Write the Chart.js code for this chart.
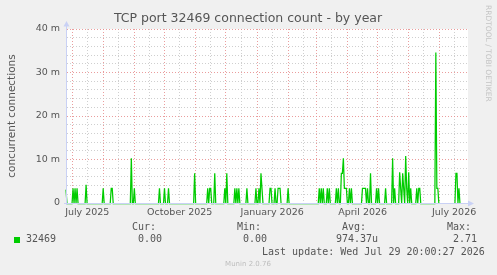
<!DOCTYPE html>
<html><head><meta charset="utf-8">
<script src="https://cdn.jsdelivr.net/npm/chart.js@4.4.1/dist/chart.umd.min.js"></script>
<style>html,body{margin:0;padding:0;background:#f0f0f0;}#wrap{width:497px;height:275px;position:relative}</style>
</head><body><div id="wrap"><canvas id="c" width="497" height="275"></canvas></div>
<script>
// ---- data ----
const chartTitle = 'TCP port 32469 connection count - by year';
const yAxisTitle = 'concurrent connections';
const seriesName = '32469';
const startStamp = '2025-06-24T20:00:27Z';
const totalDays = 400;
// day offsets (from start) with non-zero values, and values in milli-connections
const spikeDays = [0, 7, 9, 11, 20, 37, 45, 46, 65, 68, 93, 98, 102, 128, 141, 143, 144, 148, 158, 160,
  168, 170, 172, 180, 189, 192, 194, 195, 203, 204, 208, 211, 212, 213, 221,
  252, 254, 256, 260, 262, 269, 271, 274, 275, 276, 277, 278, 279, 282, 284,
  295, 296, 297, 298, 300, 303, 309, 311, 318, 325, 327, 332, 333, 335, 336, 338, 339, 341, 343,
  349, 351, 352, 368, 369, 370, 388, 389, 391];
const spikeValues = [3.2, 3.47, 3.47, 3.47, 4.3, 3.47, 3.47, 3.47, 10.4, 3.47, 3.47, 3.47, 3.47, 6.94, 3.47, 3.47, 3.47, 6.94, 3.47, 6.94,
  3.47, 3.47, 3.47, 3.47, 3.47, 3.47, 6.94, 3.47, 3.47, 3.47, 3.47, 3.47, 3.47, 3.47, 3.47,
  3.47, 3.47, 3.47, 3.47, 3.47, 3.47, 3.47, 6.94, 6.94, 10.4, 3.47, 3.47, 3.47, 3.47, 3.47,
  3.47, 3.47, 3.47, 3.47, 3.47, 6.94, 3.47, 3.47, 3.47, 10.4, 3.47, 7.2, 3.47, 6.94, 3.47, 10.9, 3.47, 7.2, 3.47,
  3.47, 3.47, 3.47, 34.7, 3.47, 3.47, 6.94, 6.94, 3.47];
// day ranges with no data (unknown)
const gapStarts = [372, 393];
const gapEnds = [386, 400];
const yTickValues = [0, 10, 20, 30, 40];
const yTickLabels = ['0', '10 m', '20 m', '30 m', '40 m'];
const monthStarts = ['2025-07-01','2025-08-01','2025-09-01','2025-10-01','2025-11-01','2025-12-01','2026-01-01',
  '2026-02-01','2026-03-01','2026-04-01','2026-05-01','2026-06-01','2026-07-01'];
const monthMids = ['2025-07-16','2025-08-16','2025-09-16','2025-10-16','2025-11-16','2025-12-16','2026-01-16',
  '2026-02-16','2026-03-16','2026-04-16','2026-05-16','2026-06-16','2026-07-16'];
const xLabelDates = ['2025-07-16','2025-10-16','2026-01-16','2026-04-16','2026-07-16'];
const xLabels = ['July 2025','October 2025','January 2026','April 2026','July 2026'];
const legendHeaders = ['Cur:','Min:','Avg:','Max:'];
const legendValues = ['0.00','0.00','974.37u','2.71'];
const lastUpdate = 'Last update: Wed Jul 29 20:00:27 2026';
const footerText = 'Munin 2.0.76';
const sideText = 'RRDTOOL / TOBI OETIKER';

// ---- build ----
const startMs = Date.parse(startStamp);
const dayOf = s => (Date.parse(s + 'T00:00:00Z') - startMs) / 86400000;
const valueMap = new Map(spikeDays.map((d, i) => [d, spikeValues[i]]));
const points = [];
for (let d = 0; d <= totalDays; d++) {
  let inGap = false;
  gapStarts.forEach((g, i) => { if (d >= g && d <= gapEnds[i]) inGap = true; });
  points.push({x: d, y: inGap ? null : (valueMap.get(d) || 0)});
}
const majorX = monthStarts.map(dayOf);
const minorX = monthMids.map(dayOf);
const majorSet = new Set(majorX);
const xTicks = majorX.concat(minorX).filter(v => v >= 0 && v <= totalDays).sort((a, b) => a - b);
const xLabelMap = new Map(xLabelDates.map((s, i) => [dayOf(s), xLabels[i]]));
const yLabelMap = new Map(yTickValues.map((v, i) => [v, yTickLabels[i]]));

const MAJOR = 'rgba(230,140,140,0.85)';
const MINOR = 'rgba(195,195,195,0.8)';
const AXIS = '#c9d1f5';
const FONT = '#555555';

const decor = {
  id: 'decor',
  beforeDraw(chart) {
    const ctx = chart.ctx, a = chart.chartArea;
    ctx.save();
    ctx.fillStyle = '#f0f0f0';
    ctx.fillRect(0, 0, chart.width, chart.height);
    ctx.fillStyle = '#ffffff';
    ctx.fillRect(a.left, a.top, a.right - a.left, a.bottom - a.top);
    ctx.restore();
  },
  beforeDatasetsDraw(chart) { chart.ctx.save(); chart.ctx.translate(0, 0.5); },
  afterDatasetsDraw(chart) { chart.ctx.restore(); },
  afterDraw(chart) {
    const ctx = chart.ctx, a = chart.chartArea;
    ctx.save();
    // title
    ctx.fillStyle = FONT;
    ctx.font = '12.5px "DejaVu Sans"';
    ctx.textAlign = 'center'; ctx.textBaseline = 'middle';
    ctx.fillText(chartTitle, 248, 19);
    // y axis title
    ctx.save();
    ctx.translate(12, (a.top + a.bottom) / 2);
    ctx.rotate(-Math.PI / 2);
    ctx.font = '10.5px "DejaVu Sans"';
    ctx.fillText(yAxisTitle, 0, 0);
    ctx.restore();
    // side watermark
    ctx.save();
    ctx.translate(488, 5);
    ctx.rotate(Math.PI / 2);
    ctx.fillStyle = '#c4c4c4';
    ctx.font = '7.5px "DejaVu Sans"';
    ctx.textAlign = 'left';
    ctx.fillText(sideText, 0, 0);
    ctx.restore();
    // axis extensions and arrows
    ctx.strokeStyle = AXIS; ctx.fillStyle = AXIS; ctx.lineWidth = 1;
    ctx.beginPath();
    ctx.moveTo(a.left + 0.5, a.bottom + 2); ctx.lineTo(a.left + 0.5, a.top - 4);
    ctx.moveTo(a.left - 2, a.bottom + 0.5); ctx.lineTo(a.right + 2, a.bottom + 0.5);
    ctx.stroke();
    ctx.beginPath();
    ctx.moveTo(a.left - 2.5, a.top - 2.5); ctx.lineTo(a.left + 3.5, a.top - 2.5); ctx.lineTo(a.left + 0.5, a.top - 8);
    ctx.closePath(); ctx.fill();
    ctx.beginPath();
    ctx.moveTo(a.right, a.bottom - 2.5); ctx.lineTo(a.right, a.bottom + 3.5); ctx.lineTo(a.right + 6, a.bottom + 0.5);
    ctx.closePath(); ctx.fill();
    // legend
    ctx.fillStyle = '#00cc00';
    ctx.fillRect(14, 237, 6, 6);
    ctx.fillStyle = FONT;
    ctx.font = '10px "DejaVu Sans Mono"';
    ctx.textAlign = 'left'; ctx.textBaseline = 'middle';
    const hx = [132, 237, 342, 447];
    const vx = [138, 243, 336, 453];
    legendHeaders.forEach((h, i) => ctx.fillText(h, hx[i], 227.5));
    ctx.fillText(seriesName, 26, 239.5);
    legendValues.forEach((v, i) => ctx.fillText(v, vx[i], 239.5));
    ctx.fillText(lastUpdate, 262, 252);
    ctx.fillStyle = '#bdbdbd';
    ctx.font = '7px "DejaVu Sans"';
    ctx.textAlign = 'center';
    ctx.fillText(footerText, 248, 264);
    ctx.restore();
  }
};

new Chart(document.getElementById('c'), {
  type: 'line',
  data: { datasets: [{
    label: seriesName, data: points, borderColor: '#00cc00', borderWidth: 1.25,
    pointRadius: 0, tension: 0, fill: false, spanGaps: false, clip: 3
  }]},
  options: {
    responsive: false, animation: false, events: [],
    layout: { padding: { left: 0, right: 29, top: 29, bottom: 0 } },
    plugins: { legend: { display: false }, title: { display: false }, tooltip: { enabled: false } },
    scales: {
      x: {
        type: 'linear', min: 0, max: totalDays,
        afterBuildTicks: s => { s.ticks = xTicks.map(v => ({ value: v })); },
        afterFit: s => { s.height = 72; },
        grid: { drawTicks: false, lineWidth: 1,
          color: c => (c.tick && majorSet.has(c.tick.value)) ? MAJOR : MINOR },
        border: { display: true, color: AXIS, dash: [1, 2] },
        ticks: { autoSkip: false, maxRotation: 0, minRotation: 0, padding: 4, color: FONT,
          font: { family: 'DejaVu Sans', size: 9.5 },
          callback: v => xLabelMap.get(v) || '' }
      },
      y: {
        min: 0, max: 40,
        afterFit: s => { s.width = 66; },
        grid: { drawTicks: false, lineWidth: 1,
          color: c => (c.tick && c.tick.value % 10 === 0) ? MAJOR : MINOR },
        border: { display: true, color: AXIS, dash: [1, 2] },
        ticks: { stepSize: 2, autoSkip: false, padding: 6, color: FONT,
          font: { family: 'DejaVu Sans', size: 9.5 },
          callback: v => yLabelMap.has(v) ? yLabelMap.get(v) : '' }
      }
    }
  },
  plugins: [decor]
});
</script></body></html>
